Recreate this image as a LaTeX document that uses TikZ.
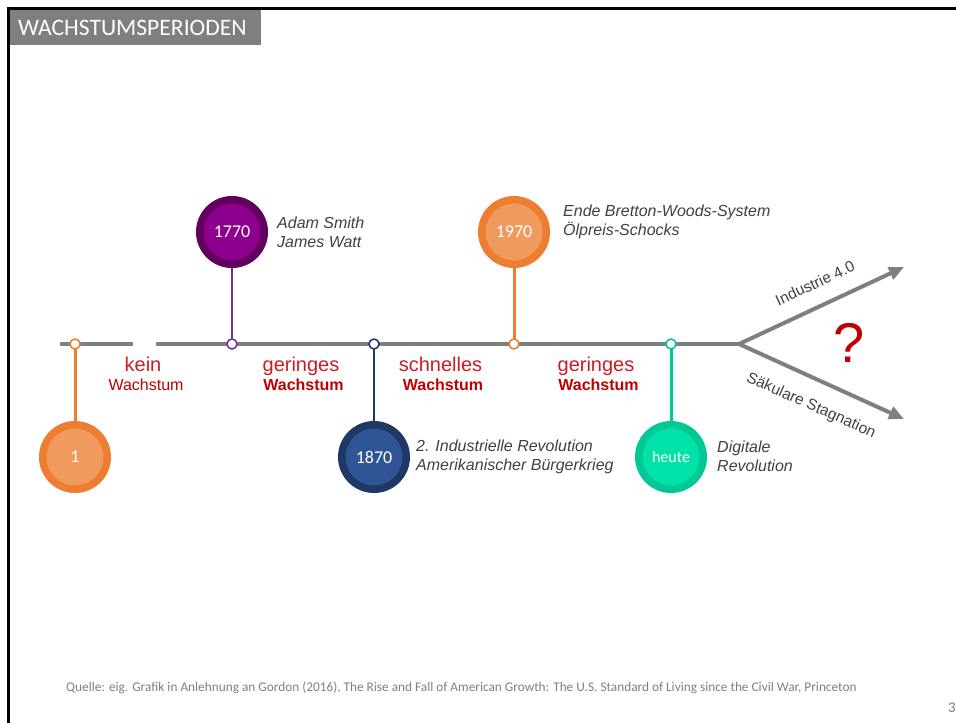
\documentclass[tikz,border=0pt]{standalone}
\usepackage{fontspec}
\setmainfont{Liberation Sans}
\newfontfamily\carlito{Carlito}
\usetikzlibrary{arrows.meta}

\definecolor{axisgray}{HTML}{7F7F7F}
\definecolor{labelgray}{HTML}{404040}
\definecolor{growthred}{HTML}{C00000}
\definecolor{phasered}{HTML}{C81E24}
\definecolor{orangeout}{HTML}{ED7D31}
\definecolor{orangein}{HTML}{F19A5E}
\definecolor{purpleout}{HTML}{620060}
\definecolor{purplein}{HTML}{8E008E}
\definecolor{purplestem}{HTML}{7030A0}
\definecolor{navyout}{HTML}{203864}
\definecolor{navyin}{HTML}{2F5597}
\definecolor{tealout}{HTML}{00C896}
\definecolor{tealin}{HTML}{00E3A8}

\tikzset{
  yearcircle/.style n args={2}{circle, minimum size=64.5pt, inner sep=0pt,
    draw=#1, line width=7.5pt, fill=#2, text=white,
    font=\carlito\fontsize{18}{18}\selectfont},
  tick/.style={circle, minimum size=10pt, inner sep=0pt, draw=#1,
    line width=1.5pt, fill=white},
  stem/.style={draw=#1, line width=3pt},
  event/.style={anchor=west, align=left, inner sep=0pt, text=labelgray,
    font=\itshape\fontsize{16}{19}\selectfont},
  phasetop/.style={anchor=base, inner sep=0pt, text=phasered,
    font=\fontsize{20}{20}\selectfont},
  phasebottom/.style={anchor=base, inner sep=0pt, text=growthred,
    font=\bfseries\fontsize{16}{16}\selectfont},
  axis/.style={draw=axisgray, line width=4pt},
  branch/.style={draw=axisgray, line width=4pt,
    -{Triangle[length=15pt, width=13pt]}},
  branchlabel/.style={inner sep=0pt, text=labelgray,
    font=\fontsize{15.5}{15.5}\selectfont}
}

\begin{document}
\begin{tikzpicture}[x=1pt, y=-1pt]
\useasboundingbox (0,0) rectangle (956,723);

% slide frame and title bar
\draw[line width=3pt] (8.5,723) -- (8.5,8.5) -- (956,8.5);
\fill[axisgray] (10,10) rectangle (261,45);
\node[anchor=west, inner sep=0pt, text=white,
  font=\carlito\fontsize{23.6}{23.6}\selectfont] (title) at (18,27.5) {WACHSTUMSPERIODEN};

% timeline
\coordinate (t0) at (60,344);
\coordinate (t1) at (133,344);
\coordinate (t2) at (156,344);
\coordinate (fork) at (739,344);
\coordinate (up) at (904,267);
\coordinate (down) at (904,419);
\draw[axis] (t0) -- (t1);
\draw[axis] (t2) -- (fork);
\draw[branch] (fork) -- (up);
\draw[branch] (fork) -- (down);

% tick positions
\coordinate (p1) at (75,344);
\coordinate (p2) at (232,344);
\coordinate (p3) at (374,344);
\coordinate (p4) at (514,344);
\coordinate (p5) at (671,344);

% year circles
\node[yearcircle={orangeout}{orangein}] (c1) at (75,457) {1};
\node[yearcircle={purpleout}{purplein}] (c2) at (232,232) {1770};
\node[yearcircle={navyout}{navyin}] (c3) at (374,457) {1870};
\node[yearcircle={orangeout}{orangein}] (c4) at (514,232) {1970};
\node[yearcircle={tealout}{tealin}, font=\carlito\fontsize{16}{16}\selectfont] (c5) at (671,457) {heute};

% stems
\draw[stem=orangeout] (p1) -- (c1);
\draw[stem=purplestem, line width=2pt] (p2) -- (c2);
\draw[stem=navyout, line width=2.2pt] (p3) -- (c3);
\draw[stem=orangeout] (p4) -- (c4);
\draw[stem=tealout] (p5) -- (c5);

% ticks on the timeline
\node[tick=orangeout] (d1) at (p1) {};
\node[tick=purplestem] (d2) at (p2) {};
\node[tick=navyout] (d3) at (p3) {};
\node[tick=orangeout] (d4) at (p4) {};
\node[tick=tealout] (d5) at (p5) {};

% events
\node[event] (e2) at (277,232) {Adam Smith\\James Watt};
\node[event] (e4) at (563,222) {Ende Bretton-Woods-System\\Ölpreis-Schocks};
\node[event] (e3) at (416,457) {2. Industrielle Revolution\\Amerikanischer Bürgerkrieg};
\node[event] (e5) at (717,456.5) {Digitale\\Revolution};

% growth phases
\node[phasetop] (g1a) at (143,371) {kein};
\node[phasebottom, font=\fontsize{16}{16}\selectfont] (g1b) at (146,390) {Wachstum};
\node[phasetop] (g2a) at (301,371) {geringes};
\node[phasebottom] (g2b) at (303.5,390) {Wachstum};
\node[phasetop] (g3a) at (440.5,371) {schnelles};
\node[phasebottom] (g3b) at (443,390) {Wachstum};
\node[phasetop] (g4a) at (596,371) {geringes};
\node[phasebottom] (g4b) at (598.5,390) {Wachstum};

% outlook
\node[branchlabel, rotate=25] (l1) at (815,283) {Industrie 4.0};
\node[branchlabel, rotate=-24] (l2) at (811,406) {Säkulare Stagnation};
\node[inner sep=0pt, text=growthred, font=\fontsize{56}{56}\selectfont] (q) at (849,343) {?};

% source and page number
\node[anchor=west, inner sep=0pt, text=axisgray,
  font=\carlito\fontsize{13.3}{13.3}\selectfont] (src) at (66,688)
  {Quelle: eig. Grafik in Anlehnung an Gordon (2016), The Rise and Fall of American Growth: The U.S. Standard of Living since the Civil War, Princeton};
\node[anchor=west, inner sep=0pt, text=axisgray,
  font=\carlito\fontsize{15}{15}\selectfont] (pg) at (948,708) {3};
\end{tikzpicture}
\end{document}
